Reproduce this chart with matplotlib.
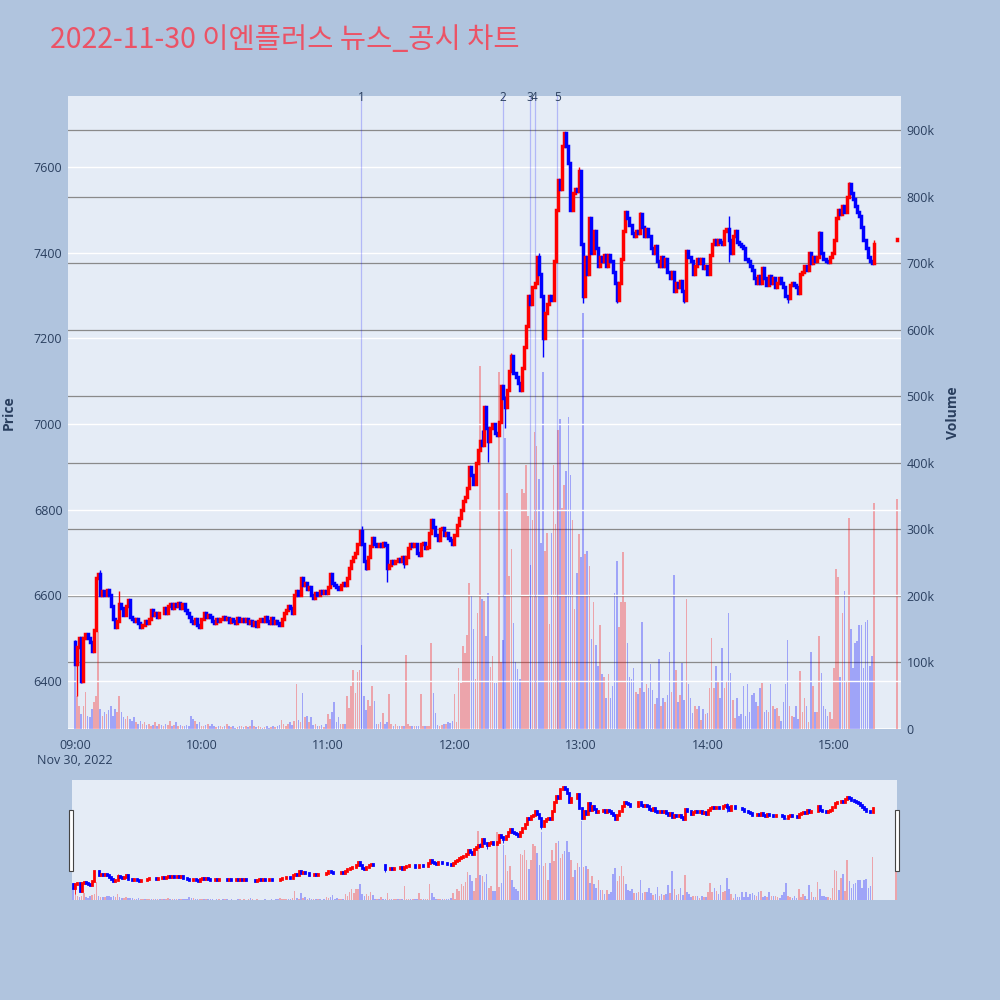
import numpy as np
import pandas as pd
import matplotlib
matplotlib.use("Agg")
import matplotlib.pyplot as plt
import matplotlib.dates as mdates
import matplotlib.transforms as mtransforms
from matplotlib.patches import Rectangle
from matplotlib.ticker import FuncFormatter

plt.rcParams['font.family'] = ['Open Sans', 'DejaVu Sans']

title = "2022-11-30 이엔플러스 뉴스_공시 차트"
day = "2022-11-30"

# minute closes 09:00 .. 15:19 (10 per row)
close = [
    6440, 6480, 6500, 6400, 6500, 6510, 6500, 6490, 6470, 6520,
    6640, 6650, 6600, 6610, 6600, 6612, 6600, 6575, 6545, 6525,
    6540, 6580, 6570, 6555, 6575, 6590, 6550, 6545, 6540, 6545,
    6535, 6525, 6530, 6540, 6535, 6545, 6565, 6555, 6560, 6550,
    6560, 6558, 6570, 6560, 6575, 6580, 6570, 6580, 6575, 6582,
    6570, 6580, 6565, 6560, 6550, 6540, 6535, 6545, 6530, 6525,
    6545, 6560, 6550, 6555, 6550, 6540, 6535, 6545, 6540, 6545,
    6550, 6545, 6548, 6538, 6545, 6540, 6535, 6548, 6540, 6545,
    6540, 6545, 6535, 6540, 6530, 6538, 6528, 6540, 6545, 6540,
    6550, 6540, 6535, 6548, 6535, 6540, 6535, 6530, 6545, 6560,
    6565, 6575, 6570, 6560, 6600, 6610, 6600, 6640, 6625, 6630,
    6615, 6620, 6600, 6595, 6605, 6600, 6610, 6605, 6610, 6605,
    6620, 6650, 6630, 6625, 6620, 6615, 6625, 6630, 6625, 6640,
    6665, 6680, 6690, 6700, 6720, 6750, 6720, 6680, 6665, 6690,
    6715, 6735, 6720, 6715, 6720, 6715, 6722, 6718, 6665, 6670,
    6680, 6675, 6680, 6685, 6680, 6690, 6675, 6690, 6710, 6720,
    6715, 6720, 6700, 6695, 6720, 6722, 6710, 6712, 6745, 6775,
    6760, 6740, 6730, 6755, 6758, 6740, 6745, 6735, 6730, 6720,
    6740, 6765, 6780, 6800, 6820, 6830, 6850, 6900, 6880, 6860,
    6910, 6940, 6960, 6950, 7040, 6990, 6960, 6990, 7000, 6980,
    6975, 7005, 7090, 7060, 7040, 7080, 7125, 7160, 7120, 7110,
    7095, 7080, 7130, 7180, 7230, 7300, 7280, 7320, 7330, 7390,
    7350, 7300, 7200, 7260, 7280, 7300, 7290, 7380, 7500, 7570,
    7550, 7650, 7680, 7650, 7610, 7500, 7540, 7550, 7545, 7590,
    7420, 7300, 7390, 7350, 7480, 7400, 7450, 7410, 7370, 7390,
    7380, 7395, 7370, 7395, 7380, 7355, 7330, 7290, 7330, 7385,
    7450, 7495, 7480, 7465, 7445, 7440, 7450, 7445, 7490, 7460,
    7440, 7455, 7440, 7410, 7400, 7415, 7380, 7370, 7390, 7370,
    7385, 7355, 7340, 7355, 7310, 7330, 7320, 7335, 7310, 7290,
    7405, 7390, 7380, 7350, 7370, 7385, 7375, 7385, 7365, 7370,
    7350, 7395, 7420, 7430, 7420, 7430, 7425, 7420, 7450, 7455,
    7430, 7400, 7440, 7450, 7425, 7420, 7415, 7410, 7385, 7380,
    7370, 7360, 7340, 7330, 7345, 7330, 7365, 7340, 7325, 7345,
    7330, 7340, 7320, 7330, 7340, 7330, 7320, 7300, 7295, 7325,
    7330, 7325, 7320, 7305, 7350, 7355, 7370, 7360, 7400, 7375,
    7390, 7380, 7390, 7445, 7400, 7385, 7380, 7378, 7390, 7400,
    7430, 7480, 7500, 7490, 7510, 7495, 7530, 7560, 7540, 7525,
    7510, 7495, 7485, 7460, 7430, 7410, 7390, 7380, 7375, 7420,
]
first_open = 6490

# closing auction candle
auction_time = "15:30"
auction_open, auction_close = 7429, 7432

# visible wicks beyond the bodies (minute index -> price)
high_wick = {0: 6495, 12: 6660, 21: 6610, 136: 6761, 169: 6778, 193: 6985,
             207: 7166, 220: 7400, 232: 7683, 239: 7600, 268: 7495,
             310: 7485, 353: 7450, 367: 7565, 379: 7430}
low_wick = {1: 6364, 3: 6395, 138: 6660, 148: 6632, 156: 6665, 196: 6912,
            204: 6990, 222: 7157, 241: 7282, 257: 7282, 289: 7282,
            310: 7378, 338: 7282}

# volume per minute, thousands
volume_k = [
    95, 50, 35, 22, 35, 55, 20, 18, 30, 40,
    50, 145, 30, 20, 25, 22, 28, 35, 20, 30,
    25, 50, 25, 18, 15, 20, 15, 12, 18, 10,
    8, 12, 8, 10, 6, 8, 5, 6, 10, 5,
    8, 6, 5, 8, 6, 12, 5, 6, 10, 4,
    6, 5, 4, 6, 5, 20, 15, 12, 8, 10,
    5, 4, 6, 8, 5, 7, 4, 3, 5, 4,
    3, 4, 8, 5, 3, 4, 2, 3, 5, 4,
    3, 4, 3, 5, 13, 4, 3, 5, 3, 2,
    3, 4, 2, 3, 4, 3, 5, 6, 13, 8,
    5, 7, 10, 6, 12, 68, 13, 10, 54, 18,
    20, 10, 18, 6, 8, 5, 4, 6, 3, 8,
    23, 15, 26, 40, 11, 18, 8, 8, 8, 49,
    32, 64, 89, 54, 86, 88, 126, 49, 29, 44,
    35, 64, 42, 8, 8, 10, 24, 8, 10, 52,
    8, 5, 8, 5, 4, 5, 5, 111, 8, 5,
    4, 5, 5, 4, 52, 4, 5, 4, 4, 129,
    54, 24, 6, 5, 6, 8, 8, 10, 9, 12,
    52, 10, 91, 69, 125, 114, 141, 219, 200, 150,
    75, 174, 545, 195, 192, 140, 204, 93, 110, 69,
    69, 536, 100, 134, 437, 355, 230, 270, 160, 100,
    90, 75, 361, 355, 396, 320, 247, 314, 446, 425,
    375, 280, 536, 267, 294, 157, 294, 396, 308, 449,
    466, 332, 367, 387, 469, 381, 314, 180, 234, 293,
    258, 625, 263, 268, 245, 135, 191, 126, 94, 156,
    83, 78, 46, 83, 46, 64, 205, 253, 153, 191,
    266, 191, 129, 78, 75, 91, 56, 52, 62, 161,
    56, 67, 62, 97, 59, 38, 46, 105, 35, 46,
    40, 51, 115, 56, 231, 89, 40, 51, 99, 43,
    196, 67, 46, 24, 35, 30, 35, 13, 30, 22,
    24, 62, 137, 62, 94, 70, 46, 121, 62, 70,
    175, 84, 44, 16, 46, 20, 22, 65, 20, 67,
    25, 51, 54, 40, 35, 62, 69, 25, 28, 25,
    67, 35, 30, 32, 20, 12, 40, 67, 134, 35,
    20, 18, 35, 15, 87, 25, 46, 35, 10, 115,
    65, 25, 25, 140, 84, 35, 30, 20, 25, 15,
    92, 240, 229, 78, 175, 207, 70, 317, 150, 92,
    129, 132, 156, 156, 92, 161, 164, 94, 110, 340,
]
auction_volume_k = 345

news_times = ["11:15:40", "12:22:50", "12:35:40", "12:38:00", "12:48:50"]
news_labels = ["1", "2", "3", "4", "5"]

RED, BLUE = "#FF0000", "#0000FF"
INK = "#2a3f5f"
PLOT_BG = "#E5ECF6"

times = pd.date_range(f"{day} 09:00", periods=len(close), freq="min")
times = times.append(pd.DatetimeIndex([f"{day} {auction_time}"]))
x = mdates.date2num(times)
opens = np.array([first_open] + close[:-1] + [auction_open], dtype=float)
closes = np.array(close + [auction_close], dtype=float)
highs = np.maximum(opens, closes)
lows = np.minimum(opens, closes)
for i, v in high_wick.items():
    highs[i] = v
for i, v in low_wick.items():
    lows[i] = v
vols = np.array(volume_k + [auction_volume_k], dtype=float) * 1000
colors = np.where(closes >= opens, RED, BLUE)

MIN = 1 / 1440
t0 = mdates.date2num(pd.Timestamp(f"{day} 09:00"))
P_LIM = (6288, 7766)
V_LIM = (0, 951000)


def draw(axv, axp, body_lw, wick_lw, bar_w):
    axv.bar(x, vols, width=bar_w * MIN, color=colors, alpha=0.3,
            linewidth=0, zorder=2)
    axp.vlines(x, lows, highs, colors=colors, linewidth=wick_lw, zorder=3)
    body = axp.vlines(x, np.minimum(opens, closes), np.maximum(opens, closes),
                      colors=colors, linewidth=body_lw, zorder=4)
    body.set_capstyle("projecting")
    axv.set_ylim(*V_LIM)
    axp.set_ylim(*P_LIM)
    for a in (axv, axp):
        for s in a.spines.values():
            s.set_visible(False)


fig = plt.figure(figsize=(10, 10), dpi=100, facecolor="#B0C4DE")

# main chart
axv = fig.add_axes([0.068, 0.271, 0.833, 0.633], facecolor=PLOT_BG)
axp = axv.twinx()
axv.yaxis.tick_right()
axp.yaxis.tick_left()
draw(axv, axp, 2.5, 1.0, 0.75)
axv.set_xlim(t0 - 3.3 * MIN, t0 + 391.8 * MIN)

axv.set_yticks(np.arange(0, 900001, 100000))
axv.yaxis.set_major_formatter(FuncFormatter(lambda v, _: "0" if v == 0 else f"{v / 1000:.0f}k"))
axv.yaxis.grid(True, color="#8a8a8a", linewidth=0.9)
axv.set_axisbelow(True)
axv.axhline(0, color="white", linewidth=2, zorder=1.5)

axp.set_yticks(range(6400, 7601, 200))
axp.yaxis.grid(True, color="white", linewidth=1.0)
axp.set_axisbelow(True)

hours = pd.date_range(f"{day} 09:00", f"{day} 15:00", freq="h")
hour_labels = [h.strftime("%H:%M") for h in hours]
hour_labels[0] += "\nNov 30, 2022"
axv.set_xticks(mdates.date2num(hours))
axv.set_xticklabels(hour_labels)
axv.tick_params(axis="x", length=0, pad=7, labelsize=9, labelcolor=INK)
axv.tick_params(axis="y", length=0, pad=4, labelsize=9, labelcolor=INK)
axp.tick_params(axis="y", length=0, pad=4, labelsize=9, labelcolor=INK)

trans = mtransforms.blended_transform_factory(axp.transData, axp.transAxes)
for t, lab in zip(news_times, news_labels):
    xn = mdates.date2num(pd.Timestamp(f"{day} {t}"))
    axp.axvline(xn, color="blue", alpha=0.22, linewidth=0.9, zorder=2.5)
    axp.text(xn, 0.998, lab, transform=trans, ha="center", va="center",
             fontsize=8.6, color=INK)

fig.text(0.009, 0.587, "Price", rotation=90, ha="center", va="center",
         fontsize=10, fontweight="bold", color=INK)
fig.text(0.953, 0.587, "Volume", rotation=90, ha="center", va="center",
         fontsize=10, fontweight="bold", color=INK)
fig.text(0.050, 0.960, title, ha="left", va="center", fontsize=20.5,
         color="#EB5366", family=["Noto Sans CJK KR", "DejaVu Sans"])

# range slider
sv = fig.add_axes([0.072, 0.100, 0.825, 0.120], facecolor=PLOT_BG)
sp = sv.twinx()
draw(sv, sp, 2.0, 0.6, 0.75)
sv.set_xlim(t0 - 0.6 * MIN, t0 + 390.6 * MIN)
for a in (sv, sp):
    a.set_xticks([])
    a.set_yticks([])

for hx in (0.069, 0.895):
    fig.patches.append(Rectangle((hx, 0.129), 0.004, 0.061, transform=fig.transFigure,
                                 facecolor="white", edgecolor="#444444",
                                 linewidth=0.8, zorder=5))

fig.savefig("out.png", dpi=100, facecolor=fig.get_facecolor())
